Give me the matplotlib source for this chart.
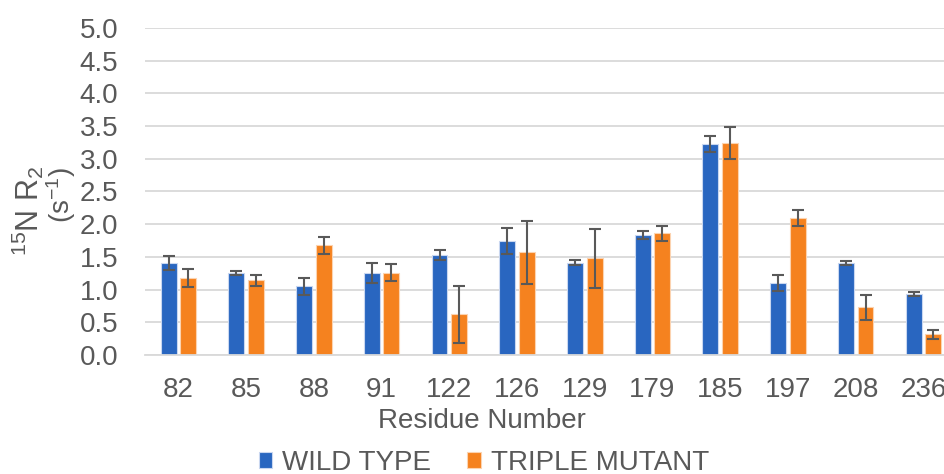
import numpy as np
import matplotlib
matplotlib.use("Agg")
import matplotlib.pyplot as plt

plt.rcParams['font.family'] = ['Liberation Sans', 'DejaVu Sans']
plt.rcParams['mathtext.fontset'] = 'custom'
plt.rcParams['mathtext.rm'] = 'Liberation Sans'
plt.rcParams['mathtext.it'] = 'Liberation Sans'

# Datos
residuos = ['82', '85', '88', '91', '122', '126', '129', '179', '185', '197', '208', '236']
wild_type = [1.41, 1.26, 1.05, 1.25, 1.53, 1.74, 1.41, 1.83, 3.23, 1.10, 1.40, 0.94]
wild_err = [0.11, 0.03, 0.13, 0.15, 0.07, 0.20, 0.04, 0.06, 0.12, 0.12, 0.03, 0.03]
triple_mutant = [1.18, 1.14, 1.68, 1.26, 0.62, 1.57, 1.48, 1.86, 3.24, 2.09, 0.73, 0.32]
triple_err = [0.14, 0.09, 0.13, 0.13, 0.44, 0.48, 0.45, 0.12, 0.25, 0.12, 0.19, 0.07]

azul = '#2966C0'
naranja = '#F5821F'
gris = '#595959'
tam = 20

fig = plt.figure(figsize=(9.45, 4.74), dpi=100)
ax = fig.add_axes([0.153, 0.251, 0.86, 0.69])

x = np.arange(len(residuos))
ancho = 0.235
desp = 0.145
err_kw = dict(ecolor=gris, elinewidth=1.5, capsize=4.5, capthick=1.5)
ax.bar(x - desp, wild_type, ancho, yerr=wild_err, color=azul, edgecolor='#C9D7F0',
       linewidth=0.8, label='WILD TYPE', error_kw=err_kw, zorder=2)
ax.bar(x + desp, triple_mutant, ancho, yerr=triple_err, color=naranja, edgecolor='#FCD3B0',
       linewidth=0.8, label='TRIPLE MUTANT', error_kw=err_kw, zorder=2)

ax.set_xlim(-0.5, len(residuos) - 0.5)
ax.set_ylim(0, 5.0)
ax.set_yticks(np.arange(0, 5.01, 0.5))
ax.set_yticklabels(['%.1f' % v for v in np.arange(0, 5.01, 0.5)])
ax.set_xticks(x)
ax.set_xticklabels(residuos)
ax.yaxis.grid(True, color='#D9D9D9', linewidth=1.3, zorder=0)
ax.set_axisbelow(True)
for lado in ['top', 'right', 'left']:
  ax.spines[lado].set_visible(False)
ax.spines['bottom'].set_color('#D9D9D9')
ax.spines['bottom'].set_linewidth(1.3)
ax.tick_params(axis='y', length=0, labelsize=tam, colors=gris, pad=19)
ax.tick_params(axis='x', length=0, labelsize=tam, colors=gris, pad=16)

# Etiquetas de los ejes
fig.text(0.51, 0.112, 'Residue Number', fontsize=tam, color=gris, ha='center', va='center')
fig.text(0.029, 0.556, r'$^{15}$N R$_2$', rotation=90, fontsize=22, color=gris,
         ha='center', va='center')
fig.text(0.065, 0.588, r'(s$^{-1}$)', rotation=90, fontsize=tam, color=gris,
         ha='center', va='center')

fig.legend(loc='center', bbox_to_anchor=(0.512, 0.024), ncol=2,
           frameon=False, fontsize=tam, labelcolor=gris, handlelength=0.5,
           handleheight=0.5, handletextpad=0.35, columnspacing=1.3, borderpad=0)

fig.savefig('out.png', dpi=100)
